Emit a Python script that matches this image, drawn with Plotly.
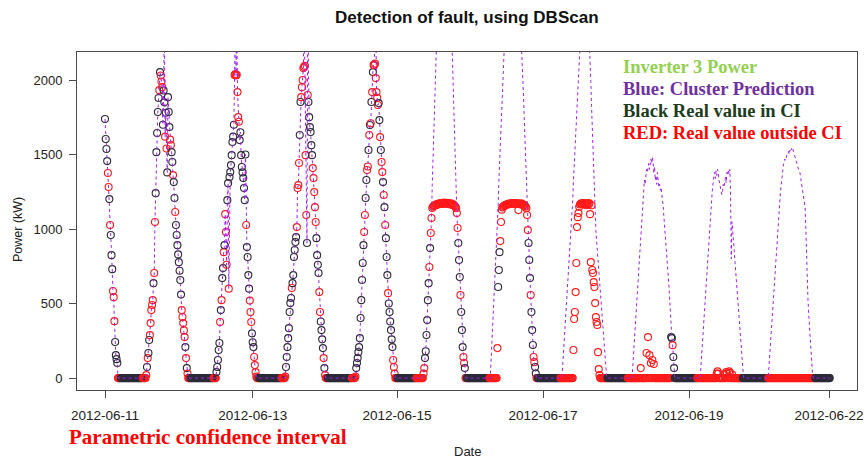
import pandas as pd
import plotly.graph_objects as go

START = "2012-06-11 00:00"
STEP = "15min"

# daylight blocks (15-min samples, kW): measured power, cluster prediction,
# and CI flag per sample (b = inside CI, r = outside CI)
day_real = [
    [1738, 1604, 1537, 1456, 1376, 1282, 1201, 1027, 960, 825, 731, 584, 543, 382, 242, 154, 127, 101],
    [20, 74, 134, 168, 255, 288, 369, 456, 490, 523, 637, 705, 1047, 1241, 1516, 1644, 1785, 1879, 1932, 2053,
     2030, 1990, 1952, 1700, 1930, 1850, 1620, 1780, 1540, 1380, 1885, 1785, 1684, 1600,
     1563, 1516, 1450, 1362, 1315, 1208, 1114, 1027, 960, 892, 830, 778, 720, 658, 560, 456, 410, 369, 320, 275,
     208, 134, 67, 30],
    [40, 74, 121, 188, 235, 376, 456, 523, 671, 738, 845, 892, 1100, 980, 760, 1194, 1308, 600, 1349, 1382, 1429,
     1496, 1584, 1620,
     1700, 2033, 2040, 2030, 2035, 1919, 1751, 1720,
     1597, 1650, 1496, 1416, 1380, 1342, 1275, 1194, 1500, 1027, 879, 812, 691, 600, 520, 443, 376, 300, 240, 208,
     141, 87, 40, 10],
    [10, 74, 141, 208, 268, 335, 443, 503, 537, 604, 637, 691, 812, 859, 913, 946, 1013, 1275, 1295, 1443, 1631,
     1852, 1885, 1952, 2000,
     2080, 2087, 2095, 1496, 1094, 906, 1899,
     1852, 1751, 1684, 1651, 1563, 1496, 1409, 1342, 1248, 1147, 1047, 939, 825, 760, 705, 577, 443, 380, 322, 260,
     201, 134, 67, 20],
    [10, 67, 101, 134, 174, 208, 268, 403, 523, 658, 772, 892, 980, 1094, 1208, 1329, 1396, 1420, 1530, 1631, 1698,
     1710, 1852, 1919, 2053, 2100,
     2100, 2110, 2013,
     1919, 1880, 1832, 1845, 1731, 1617, 1530, 1450, 1382, 1315, 1228, 1147, 1027, 939, 812, 691, 570, 500, 443,
     380, 322, 260, 208, 121, 74, 30],
    [30, 67, 134, 180, 289, 389, 523, 637, 745, 872, 973, 1074,
     1141, 1150, 1155, 1160, 1158, 1165, 1162, 1168, 1170, 1166, 1172, 1170, 1175, 1172, 1168, 1175, 1178, 1172,
     1175, 1170, 1176, 1172, 1168, 1174, 1170, 1165, 1172, 1168, 1162, 1166, 1160, 1155, 1150, 1140, 1107,
     1007, 906, 792, 678, 557, 443, 322, 208, 141, 101, 67],
    [0, 0, 0, 0, 0, 0, 0, 0, 0, 0, 0, 201, 611, 725, 845, 919, 1047,
     1130, 1145, 1150, 1155, 1160, 1158, 1162, 1165, 1168, 1165, 1170, 1172, 1168, 1170, 1175, 1172, 1170, 1174,
     1172, 1168, 1175, 1170, 1172, 1127, 1168, 1170, 1165, 1172, 1168, 1165, 1160, 1162, 1155, 1150, 1140, 1094,
     993, 906, 792, 671, 557, 443, 322, 222, 141, 107, 74, 30],
    [0, 0, 0, 0, 0, 0, 0, 0, 0, 0, 0, 0, 0, 0, 0, 0, 0, 0,
     188, 396, 443, 577, 772, 1013, 1080, 1107, 1150, 1165, 1170, 1172, 1168, 1175, 1170, 1165, 1172, 1168, 1160,
     1170, 1174, 1165, 1172, 1100, 778, 1160, 725, 705, 644, 611, 503, 409, 376, 356, 174, 60, 20,
     0, 0, 0, 0, 0, 0, 0, 0, 0, 0],
    [0, 0, 0, 0, 0, 0, 0, 0, 0, 0, 0, 0, 0, 0, 0, 0, 0, 0, 67, 0, 0, 0, 0, 0, 0, 0, 168, 0, 275, 0, 154, 0, 101,
     0, 121, 0, 94, 0, 0, 0, 0, 0, 0, 0, 0, 0, 0, 0, 0, 0, 0, 0, 0, 0, 0, 0, 0, 0, 0, 0,
     275, 268, 221, 141, 67, 0],
    [0, 0, 0, 0, 0, 0, 0, 0, 0, 0, 0, 0, 0, 0, 0, 0, 0, 0, 0, 0, 0, 0, 0, 0, 0, 0, 0, 30, 45, 30, 0, 0, 0, 0, 0,
     0, 0, 25, 0, 0, 40, 30, 0, 0, 45, 35, 0, 0, 25, 0, 0, 0, 0, 0, 0, 0, 0, 0, 0, 0, 0, 0, 0],
    [0] * 65,
]

day_pred = [
    [1738, 1604, 1537, 1456, 1376, 1282, 1201, 1027, 960, 825, 731, 584, 543, 382, 242, 154, 127, 101],
    [20, 74, 134, 168, 255, 288, 369, 456, 490, 523, 637, 705, 1047, 1241, 1516, 1644, 1785, 1879, 1932, 2053,
     2030, 1990, 1952, 1700, 1930, 2400, 1620, 1780, 1540, 1380, 1885, 1785, 1684, 1600,
     1563, 1516, 1450, 1362, 1315, 1208, 1114, 1027, 960, 892, 830, 778, 720, 658, 560, 456, 410, 369, 320, 275,
     208, 134, 67, 30],
    [40, 74, 121, 188, 235, 376, 456, 523, 671, 738, 845, 892, 1100, 980, 760, 1194, 1308, 600, 1349, 1382, 1429,
     1496, 1584, 1620,
     1700, 2033, 2500, 2030, 2450, 1919, 1751, 1720,
     1597, 1650, 1496, 1416, 1380, 1342, 1275, 1194, 1500, 1027, 879, 812, 691, 600, 520, 443, 376, 300, 240, 208,
     141, 87, 40, 10],
    [10, 74, 141, 208, 268, 335, 443, 503, 537, 604, 637, 691, 812, 859, 913, 946, 1013, 1275, 1295, 1443, 1631,
     1852, 1885, 1952, 2000,
     2080, 2500, 2095, 1496, 1094, 906, 2450,
     1852, 1751, 1684, 1651, 1563, 1496, 1409, 1342, 1248, 1147, 1047, 939, 825, 760, 705, 577, 443, 380, 322, 260,
     201, 134, 67, 20],
    [10, 67, 101, 134, 174, 208, 268, 403, 523, 658, 772, 892, 980, 1094, 1208, 1329, 1396, 1420, 1530, 1631, 1698,
     1710, 1852, 1919, 2053, 2100,
     2100, 2500, 2450,
     1919, 1880, 1832, 1845, 1731, 1617, 1530, 1450, 1382, 1315, 1228, 1147, 1027, 939, 812, 691, 570, 500, 443,
     380, 322, 260, 208, 121, 74, 30],
    [30, 67, 134, 180, 289, 389, 523, 637, 745, 872, 973, 1074,
     1300, 1600, 1850, 2100, 2350, 2550, 2700, 2850, 2950, 3050, 3120, 3180, 3220, 3250, 3260, 3260, 3250, 3220,
     3180, 3120, 3050, 2970, 2880, 2780, 2670, 2550, 2420, 2280, 2130, 1950, 1750, 1550, 1350, 1200, 1107,
     1007, 906, 792, 678, 557, 443, 322, 208, 141, 101, 67],
    [0, 0, 90, 190, 290, 390, 490, 590, 690, 790, 890, 1000, 1150, 1320, 1500, 1700, 1900,
     2100, 2300, 2480, 2640, 2780, 2900, 3000, 3080, 3140, 3180, 3210, 3230, 3240, 3240, 3230, 3210, 3180, 3140,
     3090, 3030, 2960, 2880, 2790, 2690, 2600, 2500, 2400, 2280, 2150, 2050, 1900, 1750, 1600, 1450, 1300, 1150,
     993, 906, 792, 671, 557, 443, 322, 222, 141, 107, 74, 30],
    [0, 0, 0, 70, 150, 230, 300, 380, 460, 530, 610, 690, 760, 840, 920, 990, 1060,
     1190, 1320, 1450, 1580, 1710, 1840, 1970, 2100, 2230,
     2350, 2460, 2550, 2620, 2670, 2700, 2710, 2710, 2700, 2670, 2620, 2550, 2460, 2350, 2240,
     2150, 1990, 1830, 1670, 1510, 1350, 1200, 1060, 990, 920, 850, 790, 720, 650, 590, 520, 450, 390, 320, 250,
     190, 120, 60, 0],
    [0, 0, 0, 0, 0, 0, 0,
     80, 160, 240, 330, 410, 490, 570, 650, 730, 810, 890, 970, 1060,
     1130, 1200, 1260, 1329, 1300, 1350, 1400, 1380, 1420, 1440, 1400, 1460, 1470, 1440, 1483, 1450,
     1376, 1420, 1329, 1360, 1300, 1380, 1330, 1280, 1300, 1260, 1280, 1241, 1200, 1150,
     1080, 1000, 926, 870, 800, 740, 680, 611, 520, 400,
     275, 268, 221, 141, 67, 0],
    [0, 0, 0, 0, 0,
     70, 150, 230, 300, 380, 460, 530, 610, 690, 760, 840, 920, 990, 1060,
     1130, 1200, 1270, 1329, 1350, 1380, 1340, 1390, 1360, 1400, 1380,
     1330, 1300, 1280, 1250, 1230, 1260, 1300, 1280, 1330,
     1350, 1310, 1380, 1360, 1400, 1370, 1400, 1250, 800, 1050,
     1000, 930, 860, 790, 720, 640, 570, 500, 430, 360, 290, 210, 140, 70],
    [0, 70, 150, 220, 300, 380, 450, 530, 600, 680, 760, 830, 910, 980, 1060,
     1120, 1180, 1250, 1310, 1370, 1416,
     1430, 1450, 1470, 1460, 1490, 1500, 1510,
     1520, 1500, 1530, 1520, 1540, 1530, 1543,
     1520, 1500, 1480, 1470, 1450, 1440, 1420, 1400, 1390, 1376,
     1340, 1310, 1280, 1250, 1220, 1180, 1147,
     1000, 800, 611,
     520, 430, 340, 260, 180, 100, 40, 0, 0, 0],
]

day_flag = [
    "bbbbrrbrbbbrrrbbbb",
    "rbrbbrrrrrbrrbbbbbrb" + "rrrbbbrbrbbbbr" + "rbbrbbrbbbbbbbbrrrrrbrbr",
    "bbbbbrbrbbrbrrrbbrbbbbbb" + "brrrrrrr" + "bbbbbbbbbrbbbbrrrbbbrrrr",
    "rbbbbbbbbrbbbbbbrrrrbbrrr" + "rrrrrbr" + "bbbbbbrrrrrbbbbrrbbbbrbr",
    "rbbbbbbbbbbbrrbbrrbrbrbrbr" + "rrr" + "rrrbbrbrrbrbrbbbrbbbbbbrrr",
    "rrbbbbbbrbrr" + "r" * 35 + "rbbbrbbbrrb",
    "r" * 11 + "rbbbrr" + "r" * 36 + "rbbbrbbbrrbb",
    "r" * 65,
    "r" * 60 + "bbrbbb",
    "r" * 63,
    "r" * 65,
]

# night blocks after each day: zero output, CI flag runs (outside, inside, outside)
night_runs = [(4, 30, 5), (3, 32, 4), (3, 31, 5), (3, 33, 5), (3, 26, 10), (2, 31, 0),
              (2, 31, 0), (0, 28, 0), (0, 30, 0), (0, 35, 0), (0, 21, 0)]

tick_dates = ["2012-06-11 00:00", "2012-06-13 03:00", "2012-06-15 04:50",
              "2012-06-17 07:15", "2012-06-19 09:40", "2012-06-21 10:00"]
tick_text = ["2012-06-11", "2012-06-13", "2012-06-15", "2012-06-17", "2012-06-19", "2012-06-22"]

legend_lines = [
    ("Inverter 3 Power", "#92d050"),
    ("Blue: Cluster Prediction", "#7030a0"),
    ("Black Real value in CI", "#1d3b1d"),
    ("RED: Real value outside CI", "#ff0000"),
]

# assemble the series
real, pred, flags = [], [], ""
for k in range(len(day_real)):
    assert len(day_real[k]) == len(day_pred[k]) == len(day_flag[k]), k
    real += day_real[k]
    pred += day_pred[k]
    flags += day_flag[k]
    a, b, c = night_runs[k]
    n = a + b + c
    real += [0] * n
    pred += [0] * n
    flags += "r" * a + "b" * b + "r" * c

times = pd.date_range(START, periods=len(real), freq=STEP)
colors = ["#2b2b38" if f == "b" else "#ff1a1a" for f in flags]

# plot box in pixels: x 77..857, y 52..390
L, R, T, B = 77, 857, 52, 390


def px(x):
    return (x - L) / (R - L)


def py(y):
    return (B - y) / (B - T)


fig = go.Figure()
fig.add_trace(go.Scatter(
    x=times, y=real, mode="markers",
    marker=dict(symbol="circle-open", size=7, color=colors, line=dict(width=1.1)),
    showlegend=False, hoverinfo="skip",
))
fig.add_trace(go.Scatter(
    x=times, y=pred, mode="lines",
    line=dict(color="#a020f0", width=1, dash="dot"),
    showlegend=False, hoverinfo="skip",
))

axis_common = dict(
    showgrid=False, zeroline=False, showline=True, mirror=True,
    linecolor="#4a4a4a", linewidth=1, ticks="outside", ticklen=7,
    tickcolor="#4a4a4a", automargin=False, ticklabeloverflow="allow",
)
fig.update_xaxes(type="date", range=["2012-06-10 14:20", "2012-06-21 19:40"],
                 tickvals=tick_dates, ticktext=tick_text, ticklabelstandoff=6,
                 tickfont=dict(family="Liberation Sans, Arial", size=13.5, color="#222"),
                 **axis_common)
fig.update_yaxes(range=[-80, 2188], tickvals=[0, 500, 1000, 1500, 2000], ticklabelstandoff=4,
                 tickfont=dict(family="Liberation Sans, Arial", size=13, color="#222"),
                 **axis_common)

ann = [
    dict(text="Date", x=0.5, y=py(451), font=dict(size=13, family="Liberation Sans", color="#222")),
    dict(text="Power (kW)", x=px(18), y=py(230), textangle=-90,
         font=dict(size=12.5, family="Liberation Sans", color="#222")),
    dict(text="<b>Parametric confidence interval</b>", x=px(67), y=py(437), xanchor="left",
         font=dict(size=21, family="Liberation Serif", color="#ff0000")),
    dict(text="<b>Detection of fault, using DBScan</b>", x=0.5, y=py(17),
         font=dict(size=17, family="Liberation Sans", color="#111")),
]
for i, (txt, col) in enumerate(legend_lines):
    ann.append(dict(text=f"<b>{txt}</b>", x=px(621), y=py(67 + 22 * i), xanchor="left",
                    font=dict(size=18.5, family="Liberation Serif", color=col)))
for a in ann:
    a.setdefault("xanchor", "center")
    fig.add_annotation(xref="paper", yref="paper", yanchor="middle", showarrow=False, **a)

fig.update_layout(
    width=866, height=461,
    margin=dict(l=L, r=866 - R, t=T, b=461 - B),
    plot_bgcolor="white", paper_bgcolor="white",
)

# the page body has a default margin; drop it so the figure sits at the window's corner
fig.write_html("out.html", config={"displayModeBar": False},
               post_script="document.body.style.margin='0';")
